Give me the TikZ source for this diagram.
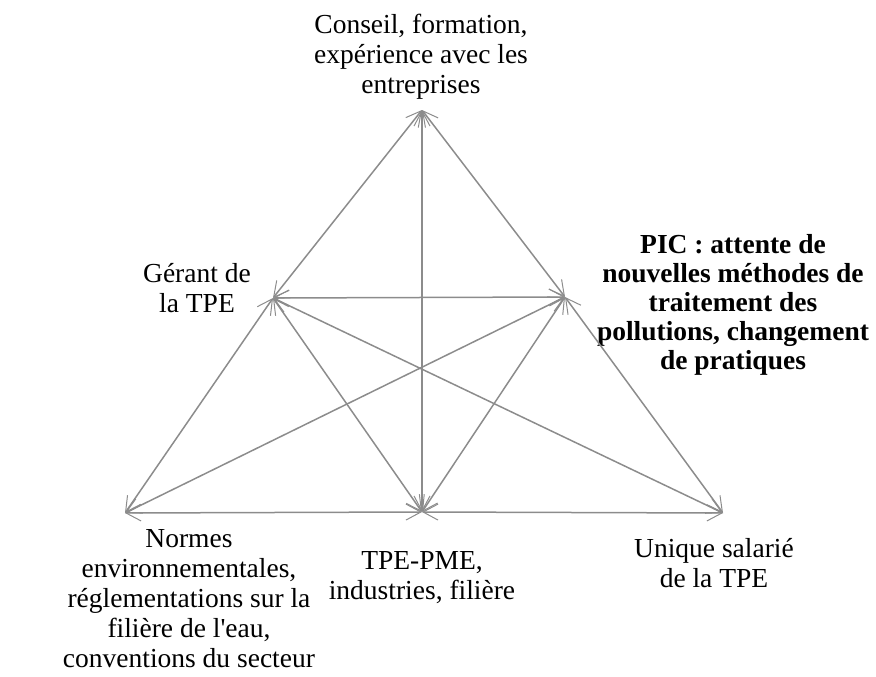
\documentclass[tikz,border=0pt]{standalone}
\usepackage{fontspec}
\setmainfont{Liberation Serif}
\usetikzlibrary{arrows.meta}

\begin{document}
\begin{tikzpicture}[x=1pt,y=-1pt,>={Straight Barb[length=15pt,width=16pt,line width=1pt]}]
  \tikzstyle{lbl}=[align=center,inner sep=0pt,font=\fontsize{27.5}{30}\selectfont]
  \tikzstyle{link}=[draw=black!45,line width=1.5pt,<->]
  \useasboundingbox (0,0) rectangle (876,677);
  % corners of the two triangles
  \coordinate (top) at (422,110);
  \coordinate (gerant) at (273,298);
  \coordinate (pic) at (565,297);
  \coordinate (normes) at (125,513);
  \coordinate (tpe) at (422,512);
  \coordinate (salarie) at (723,513);
  % labels
  \node[lbl] (lconseil) at (421,57) {Conseil, formation,\\expérience avec les\\entreprises};
  \node[lbl] (lgerant) at (197,288) {Gérant de\\la TPE};
  \node[lbl,font=\fontsize{27.5}{29}\selectfont\bfseries] (lpic) at (733,305) {PIC : attente de\\nouvelles méthodes de\\traitement des\\pollutions, changement\\de pratiques};
  \node[lbl] (lnormes) at (189,599) {Normes\\environnementales,\\réglementations sur la\\filière de l\textquotesingle eau,\\conventions du secteur};
  \node[lbl] (ltpe) at (422,578) {TPE-PME,\\industries, filière};
  \node[lbl] (lsalarie) at (714,563) {Unique salarié\\de la TPE};
  % connectors
  \draw[link] (top) -- (gerant);
  \draw[link] (top) -- (pic);
  \draw[link] (top) -- (tpe);
  \draw[link] (gerant) -- (pic);
  \draw[link] (gerant) -- (normes);
  \draw[link] (gerant) -- (tpe);
  \draw[link] (gerant) -- (salarie);
  \draw[link] (pic) -- (normes);
  \draw[link] (pic) -- (tpe);
  \draw[link] (pic) -- (salarie);
  \draw[link] (normes) -- (tpe);
  \draw[link] (tpe) -- (salarie);
\end{tikzpicture}
\end{document}
